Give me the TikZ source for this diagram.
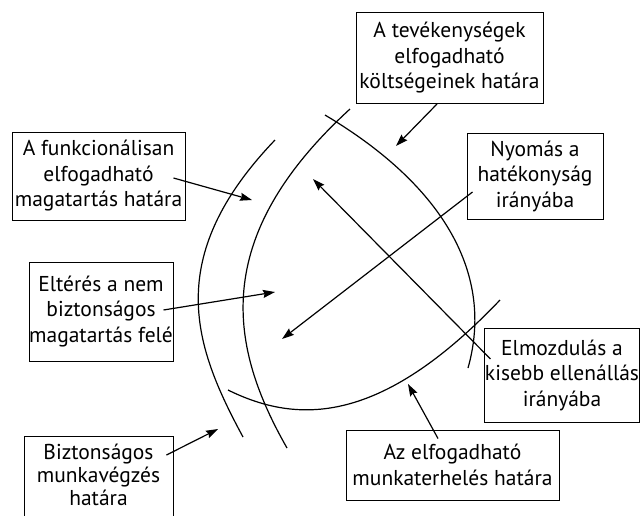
\documentclass[tikz,border=0pt]{standalone}
\usepackage{fontspec}
\setmainfont{PT Sans}
\usetikzlibrary{arrows.meta,calc}
\begin{document}
\begin{tikzpicture}[x=1pt,y=-1pt,
  labelbox/.style={draw, line width=1pt, align=center,
    font=\fontsize{21.5}{25.5}\selectfont, inner sep=0pt},
  boundary/.style={line width=1.2pt},
  pointer/.style={line width=1.2pt,
    -{Stealth[length=12pt,width=8pt,inset=1.5pt]}}]
\useasboundingbox (0,0) rectangle (640,515);

% boundaries of the operating envelope
\draw[boundary] (275,140) .. controls (161,259) and (195,348) .. (243,437);
\draw[boundary] (350,109) .. controls (208,239) and (230,348) .. (287,448);
\draw[boundary] (325,115) .. controls (446,187) and (494,276) .. (468,368);
\draw[boundary] (228,390) .. controls (297,424) and (380,426) .. (500,300);

% labels
\node[labelbox, minimum width=187pt, minimum height=91pt] (cost) at (449.5,58)
  {A tevékenységek\\elfogadható\\költségeinek határa};
\node[labelbox, minimum width=173pt, minimum height=88pt] (func) at (98.5,176)
  {A funkcionálisan\\elfogadható\\magatartás határa};
\node[labelbox, minimum width=136pt, minimum height=86pt] (press) at (535,176)
  {Nyomás a\\hatékonyság\\irányába};
\node[labelbox, minimum width=144pt, minimum height=99pt] (drift) at (101,311.5)
  {Eltérés a nem\\biztonságos\\magatartás felé};
\node[labelbox, minimum width=152pt, minimum height=94pt] (least) at (562,375)
  {Elmozdulás a\\kisebb ellenállás\\irányába};
% this box runs off the lower edge; the trailing empty line keeps the text high
\node[labelbox, font=\fontsize{21.5}{23}\selectfont,
  minimum width=149pt, minimum height=100pt] (safe) at (98.5,486.5)
  {Biztonságos\\munkavégzés\\határa\\\mbox{}};
\node[labelbox, minimum width=213pt, minimum height=70pt] (load) at (452.5,465)
  {Az elfogadható\\munkaterhelés határa};

% arrow targets
\coordinate (costT) at (396,146);
\coordinate (funcT) at (252,200);
\coordinate (pressT) at (282,339);
\coordinate (driftT) at (275,292);
\coordinate (leastT) at (313,179);
\coordinate (safeT) at (218,429);
\coordinate (loadT) at (408,384);

% pointers
\draw[pointer] ($(cost.south)+(-12.5,0)$) -- (costT);
\draw[pointer] ($(func.east)+(-12,2)$) -- (funcT);
\draw[pointer] ($(press.west)+(6,16)$) -- (pressT);
\draw[pointer] ($(drift.east)+(-10,-1.5)$) -- (driftT);
\draw[pointer] ($(least.west)+(6,-16)$) -- (leastT);
\draw[pointer] ($(safe.north east)+(-7,19)$) -- (safeT);
\draw[pointer] ($(load.north)+(-14.5,9)$) -- (loadT);
\end{tikzpicture}
\end{document}
